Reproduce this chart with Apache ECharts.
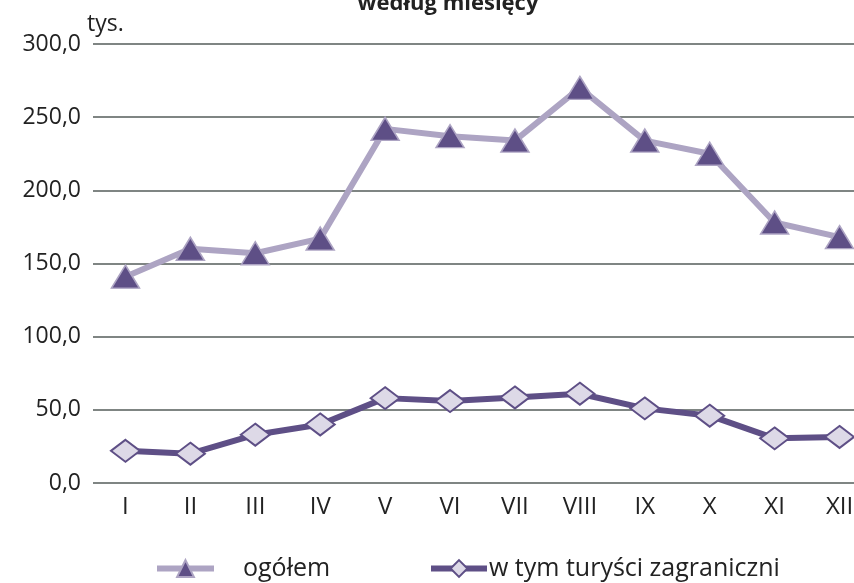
<!DOCTYPE html>
<html>
<head>
<meta charset="utf-8">
<script src="https://cdn.jsdelivr.net/npm/echarts@6/dist/echarts.min.js"></script>
<style>
  html, body { margin: 0; padding: 0; background: #fff; }
  #chart { width: 854px; height: 583px; }
</style>
</head>
<body>
<div id="chart"></div>
<script>
// miesiące
var months = ["I", "II", "III", "IV", "V", "VI", "VII", "VIII", "IX", "X", "XI", "XII"];
// turyści ogółem (tys.)
var ogolem = [141, 160, 157, 167, 242, 237, 234, 270, 234, 225, 178, 168];
// w tym turyści zagraniczni (tys.)
var zagraniczni = [22, 20, 33, 40, 58, 56, 58.5, 61, 51, 46, 30.5, 31.5];
var yTicks = [0, 50, 100, 150, 200, 250, 300];

(function() {
  var myChart = echarts.init(document.getElementById("chart"));
  var font = "'Open Sans', sans-serif";
  var option = {
    animation: false,
    title: {
      text: "według miesięcy",
      left: 443,
      top: -12,
      textAlign: "center",
      textStyle: { fontFamily: font, fontSize: 22, fontWeight: "bold", color: "#222" }
    },
    grid: { left: 93, right: -18, top: 44, bottom: 100, outerBoundsMode: "none" },
    legend: [
      {
        data: ["ogółem"],
        left: 149,
        top: 551,
        itemWidth: 57,
        itemHeight: 21,
        lineStyle: { width: 6 },
        textStyle: { fontFamily: font, fontSize: 25, color: "#222", padding: [0, 0, 0, 24] }
      },
      {
        data: ["w tym turyści zagraniczni"],
        left: 423,
        top: 551,
        itemWidth: 56,
        itemHeight: 21,
        lineStyle: { width: 6 },
        textStyle: { fontFamily: font, fontSize: 25, color: "#222", padding: [0, 0, 0, -3] }
      }
    ],
    xAxis: {
      type: "category",
      data: months,
      boundaryGap: true,
      axisLine: { show: false },
      axisTick: { show: false },
      axisLabel: { margin: 12, fontFamily: font, fontSize: 24, color: "#222" }
    },
    yAxis: {
      type: "value",
      min: yTicks[0],
      max: yTicks[yTicks.length - 1],
      interval: 50,
      name: "tys.",
      nameLocation: "end",
      nameGap: 8,
      nameTextStyle: { fontFamily: font, fontSize: 23, color: "#222", align: "left", padding: [0, 0, 0, -6] },
      axisLine: { show: false },
      axisTick: { show: false },
      axisLabel: {
        margin: 12,
        fontFamily: font,
        fontSize: 23,
        color: "#222",
        formatter: function(v) { return v.toFixed(1).replace(".", ","); }
      },
      splitLine: { lineStyle: { color: "#7f8583", width: 2 } }
    },
    series: [
      {
        name: "ogółem",
        type: "line",
        data: ogolem,
        symbol: "triangle",
        symbolSize: [28, 23],
        lineStyle: { color: "#ada4c3", width: 6 },
        itemStyle: { color: "#5e4f86", borderColor: "#ada4c3", borderWidth: 1.5 },
        z: 2
      },
      {
        name: "w tym turyści zagraniczni",
        type: "line",
        data: zagraniczni,
        symbol: "diamond",
        symbolSize: [29, 22],
        lineStyle: { color: "#5e4f86", width: 6 },
        itemStyle: { color: "#ddd9e7", borderColor: "#5e4f86", borderWidth: 2 },
        z: 3
      }
    ]
  };
  myChart.setOption(option);
  window.addEventListener("resize", function() {
    myChart.resize();
  });
})();
</script>
</body>
</html>
